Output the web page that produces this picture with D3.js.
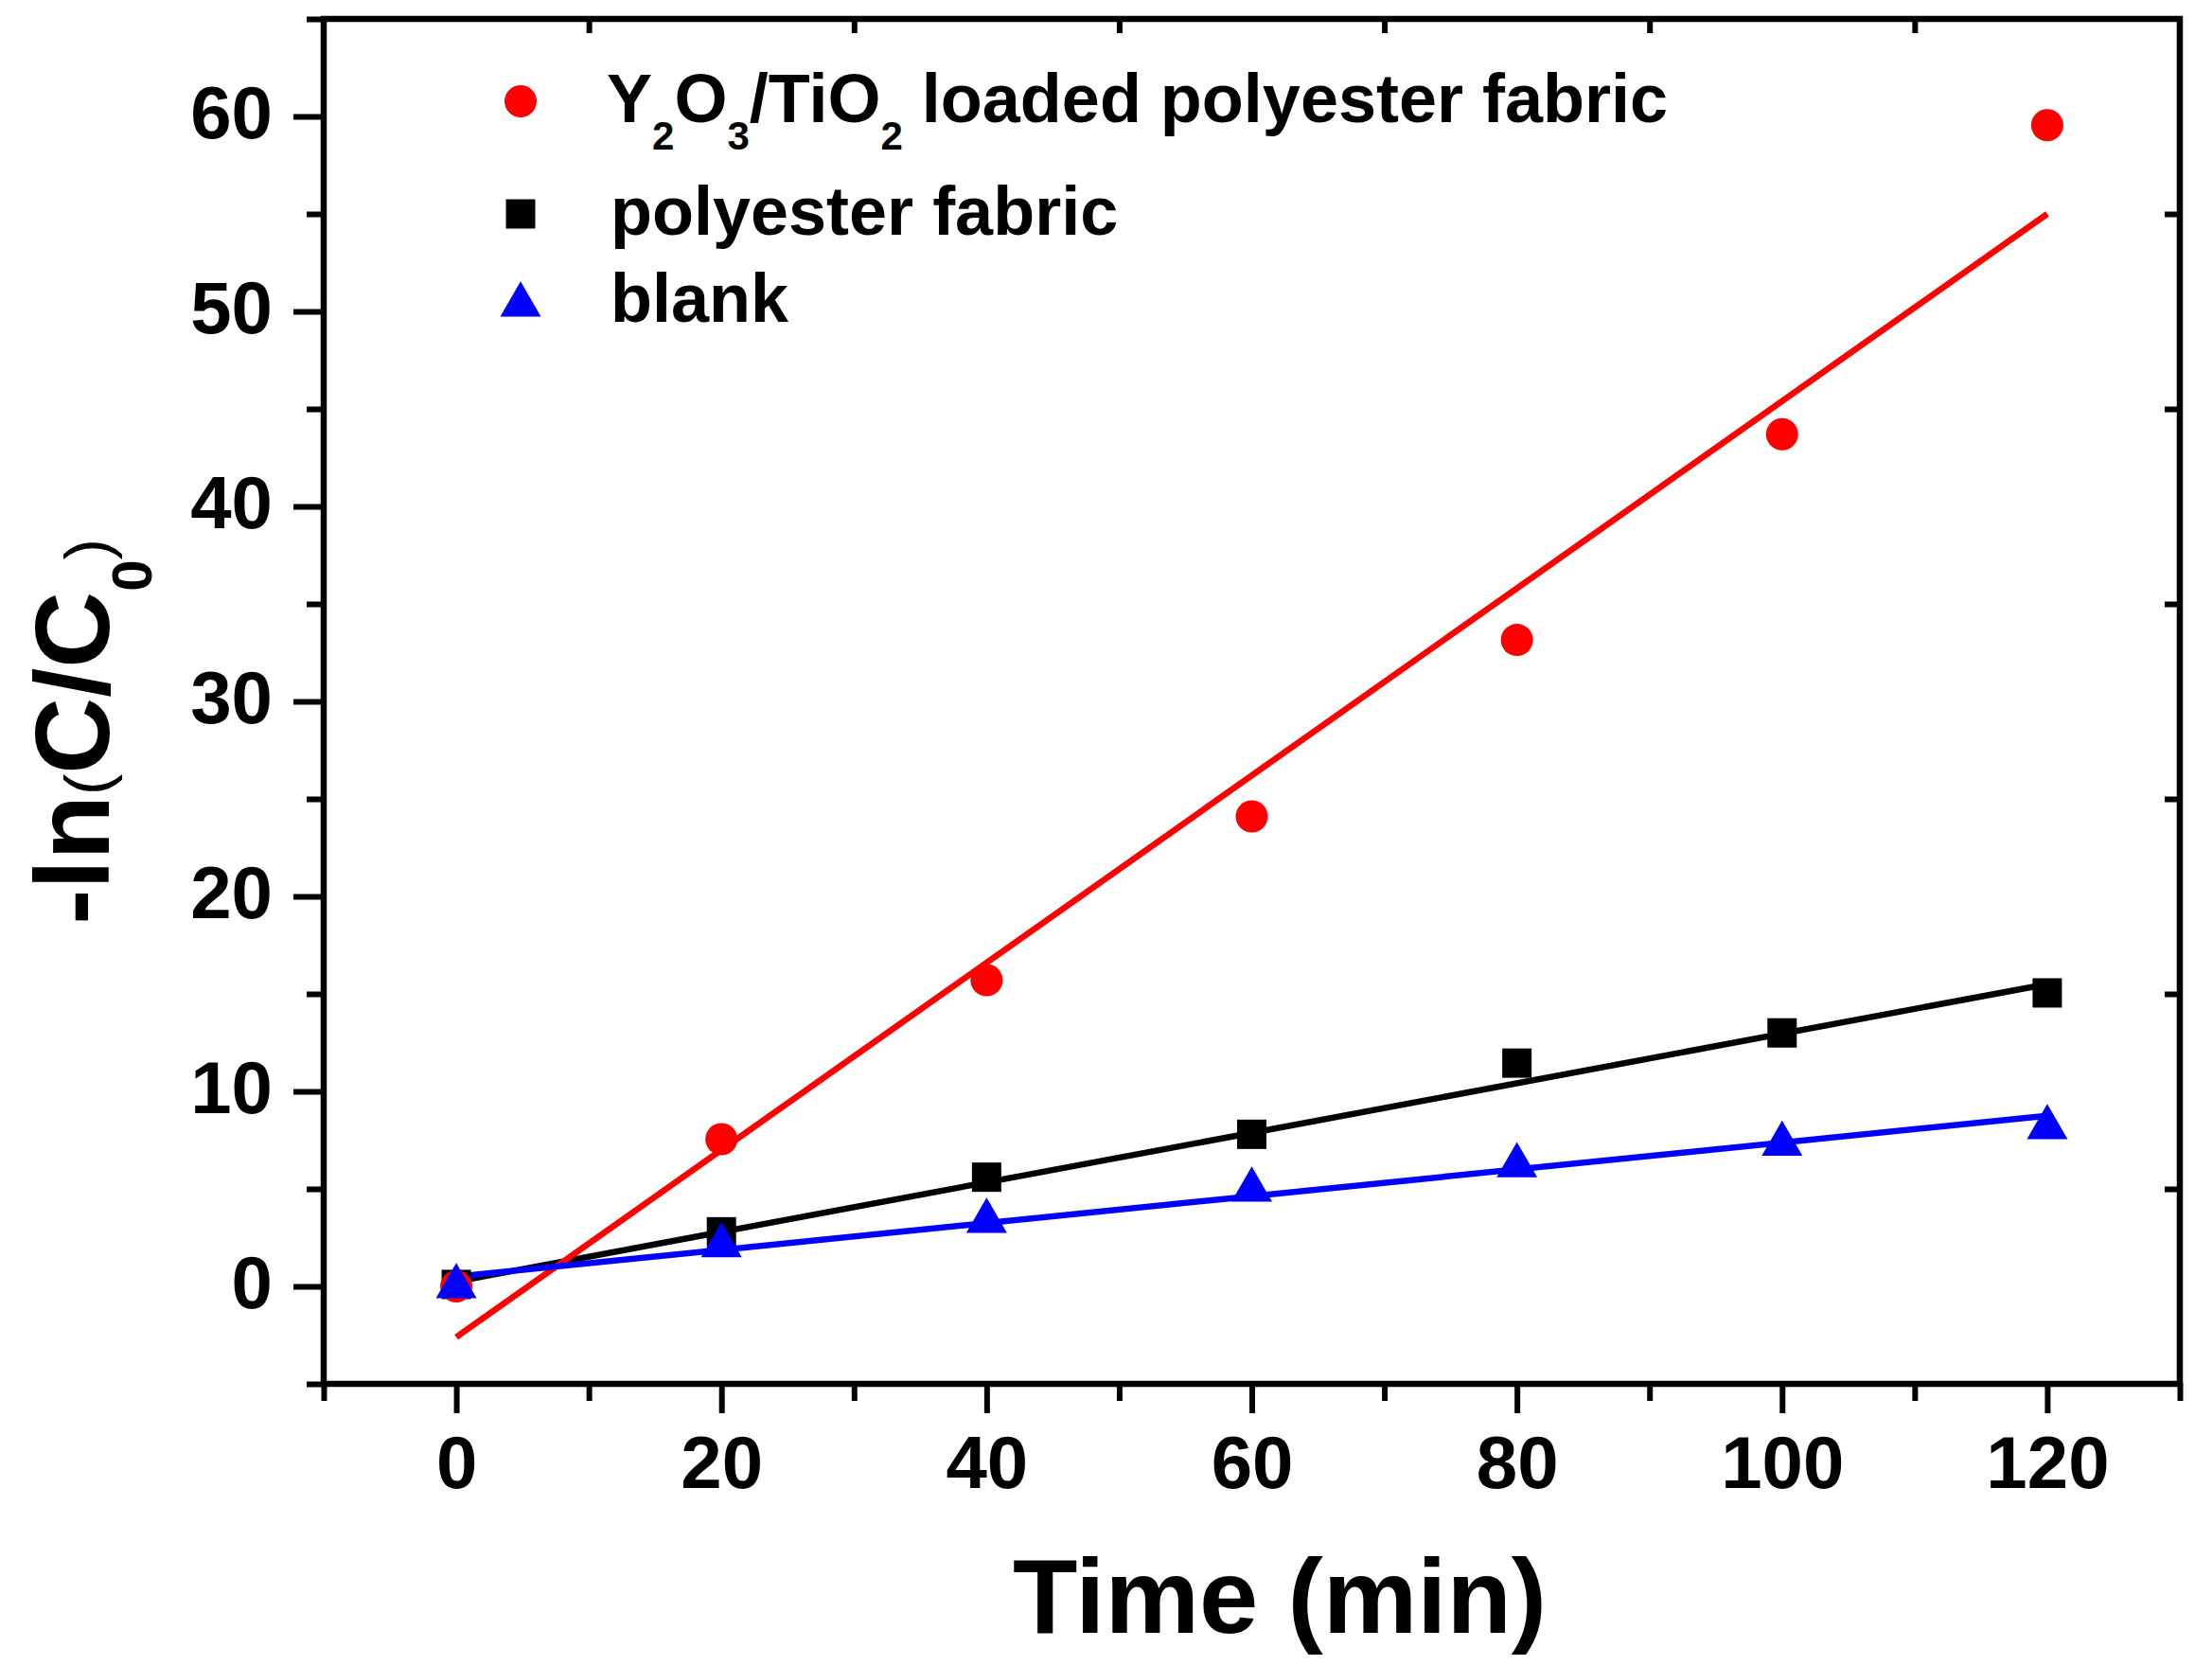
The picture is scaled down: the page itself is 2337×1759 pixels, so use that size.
<!DOCTYPE html>
<html>
<head>
<meta charset="utf-8">
<script src="https://cdn.jsdelivr.net/npm/d3@7"></script>
<style>
    body { margin: 0; background: #fff; }
    svg { display: block; }
</style>
</head>
<body>
<div id="chart"></div>
<script>
// time axis (min)
const timeMin = [0, 20, 40, 60, 80, 100, 120];

// -ln(C/C0)
const loadedFabric = [0, 7.55, 15.7, 24.1, 33.15, 43.7, 59.55];
const polyesterFabric = [0.1, 2.8, 5.6, 7.8, 11.45, 13.0, 15.05];
const blankValues = [0, 2.1, 3.35, 4.95, 6.2, 7.3, 8.15];

// linear fit lines, ends read at t = 0 and t = 120
const fitTime = [0, 120];
const loadedFit = [-2.6, 55.0];
const polyesterFit = [0.25, 15.5];
const blankFit = [0.5, 8.75];

// ticks
const xMajorTicks = [0, 20, 40, 60, 80, 100, 120];
const xMinorTicks = [-10, 10, 30, 50, 70, 90, 110, 130];
const yMajorTicks = [0, 10, 20, 30, 40, 50, 60];
const yMinorTicks = [-5, 5, 15, 25, 35, 45, 55, 65];
const topTicks = [10, 30, 50, 70, 90, 110];
const rightTicks = [5, 15, 25, 35, 45, 55];

class KineticsChart {
    constructor(element) {
        this.element = element;
        this.initVis();
    }

    initVis() {
        const vis = this;

        vis.margin = { top: 20, right: 34, bottom: 297, left: 342 };
        vis.width = 2337 - vis.margin.left - vis.margin.right;
        vis.height = 1759 - vis.margin.top - vis.margin.bottom;

        vis.root = d3.select("#" + vis.element).append("svg")
            .attr("width", 2337)
            .attr("height", 1759)
            .style("font-family", "'Liberation Sans', Arial, sans-serif");

        vis.svg = vis.root.append("g")
            .attr("transform", `translate(${vis.margin.left},${vis.margin.top})`);

        vis.x = d3.scaleLinear().domain([-10, 130]).range([0, vis.width]);
        vis.y = d3.scaleLinear().domain([-5, 65]).range([vis.height, 0]);

        vis.series = [
            { name: "polyester", values: polyesterFabric, fit: polyesterFit, color: "#000000", symbol: d3.symbolSquare, size: 961 },
            { name: "loaded", values: loadedFabric, fit: loadedFit, color: "#ff0000", symbol: d3.symbolCircle, size: 908 },
            { name: "blank", values: blankValues, fit: blankFit, color: "#0000ff", symbol: d3.symbolTriangle, size: 800 }
        ];

        vis.drawAxes();
        vis.drawSeries();
        vis.drawLabels();
        vis.drawLegend();
    }

    drawAxes() {
        const vis = this;
        const tickStyle = g => {
            g.select(".domain").remove();
            g.selectAll(".tick line").attr("stroke", "#000").attr("stroke-width", 6);
        };

        // bottom: major + minor, outward
        vis.svg.append("g")
            .attr("transform", `translate(0,${vis.height})`)
            .call(d3.axisBottom(vis.x).tickValues(xMinorTicks).tickSize(18).tickFormat(""))
            .call(tickStyle);
        vis.svg.append("g")
            .attr("transform", `translate(0,${vis.height})`)
            .call(d3.axisBottom(vis.x).tickValues(xMajorTicks).tickSize(31).tickFormat(d3.format("d")))
            .call(tickStyle)
            .call(g => g.selectAll(".tick text")
                .attr("y", 110).attr("dy", null)
                .attr("fill", "#000")
                .style("font-size", "78px").style("font-weight", "bold").style("font-family", "'Liberation Sans', Arial, sans-serif"));

        // left: major + minor, outward
        vis.svg.append("g")
            .call(d3.axisLeft(vis.y).tickValues(yMinorTicks).tickSize(18).tickFormat(""))
            .call(tickStyle);
        vis.svg.append("g")
            .call(d3.axisLeft(vis.y).tickValues(yMajorTicks).tickSize(32).tickFormat(d3.format("d")))
            .call(tickStyle)
            .call(g => g.selectAll(".tick text")
                .attr("x", -54).attr("dy", null).attr("y", 22)
                .attr("fill", "#000")
                .style("font-size", "78px").style("font-weight", "bold").style("font-family", "'Liberation Sans', Arial, sans-serif"));

        // top and right: inward minor ticks only
        vis.svg.append("g")
            .call(d3.axisTop(vis.x).tickValues(topTicks).tickSize(-15).tickFormat(""))
            .call(tickStyle);
        vis.svg.append("g")
            .attr("transform", `translate(${vis.width},0)`)
            .call(d3.axisRight(vis.y).tickValues(rightTicks).tickSize(-16).tickFormat(""))
            .call(tickStyle);

        // frame
        vis.svg.append("rect")
            .attr("x", 0).attr("y", 0)
            .attr("width", vis.width).attr("height", vis.height)
            .attr("fill", "none")
            .attr("stroke", "#000")
            .attr("stroke-width", 6.5);
    }

    drawSeries() {
        const vis = this;
        const line = d3.line()
            .x((d, i) => vis.x(fitTime[i]))
            .y(d => vis.y(d));

        vis.series.forEach(s => {
            vis.svg.append("path")
                .datum(s.fit)
                .attr("d", line)
                .attr("fill", "none")
                .attr("stroke", s.color)
                .attr("stroke-width", 6.5);
        });

        vis.series.forEach(s => {
            vis.svg.selectAll(".pt-" + s.name)
                .data(s.values)
                .enter().append("path")
                .attr("class", "pt-" + s.name)
                .attr("transform", (d, i) => `translate(${vis.x(timeMin[i])},${vis.y(d)})`)
                .attr("d", d3.symbol().type(s.symbol).size(s.size))
                .attr("fill", s.color);
        });
    }

    drawLabels() {
        const vis = this;

        // X label
        vis.root.append("text")
            .attr("x", 1352)
            .attr("y", 1725)
            .attr("text-anchor", "middle")
            .style("font-size", "112px")
            .style("font-weight", "bold")
            .text("Time (min)");

        // Y label  -ln(C/C0)
        const yl = vis.root.append("text")
            .attr("transform", "translate(115,773) rotate(-90)")
            .attr("text-anchor", "middle")
            .style("font-size", "112px")
            .style("font-weight", "bold");
        yl.append("tspan").text("-ln");
        yl.append("tspan").style("font-size", "67px").style("font-weight", "normal").text("(");
        yl.append("tspan").text("C/C");
        yl.append("tspan").attr("dy", 45).style("font-size", "60px").text("0");
        yl.append("tspan").attr("dy", -45).style("font-size", "67px").style("font-weight", "normal").text(")");
    }

    drawLegend() {
        const vis = this;
        const legend = vis.root.append("g");

        const rows = [
            { s: vis.series[1], cy: 107, baseline: 129 },
            { s: vis.series[0], cy: 226, baseline: 248 },
            { s: vis.series[2], cy: 322, baseline: 340 }
        ];

        rows.forEach(r => {
            legend.append("path")
                .attr("transform", `translate(550,${r.cy})`)
                .attr("d", d3.symbol().type(r.s.symbol).size(r.s.size))
                .attr("fill", r.s.color);
        });

        const t1 = legend.append("text")
            .attr("x", 641).attr("y", rows[0].baseline)
            .style("font-size", "72px").style("font-weight", "bold");
        t1.append("tspan").text("Y");
        t1.append("tspan").attr("dy", 29).style("font-size", "42px").text("2");
        t1.append("tspan").attr("dy", -29).text("O");
        t1.append("tspan").attr("dy", 29).style("font-size", "42px").text("3");
        t1.append("tspan").attr("dy", -29).text("/TiO");
        t1.append("tspan").attr("dy", 29).style("font-size", "42px").text("2");
        t1.append("tspan").attr("dy", -29).text(" loaded polyester fabric");

        legend.append("text")
            .attr("x", 645).attr("y", rows[1].baseline)
            .style("font-size", "72px").style("font-weight", "bold")
            .text("polyester fabric");

        legend.append("text")
            .attr("x", 645).attr("y", rows[2].baseline)
            .style("font-size", "72px").style("font-weight", "bold")
            .text("blank");
    }
}

new KineticsChart("chart");
</script>
</body>
</html>
